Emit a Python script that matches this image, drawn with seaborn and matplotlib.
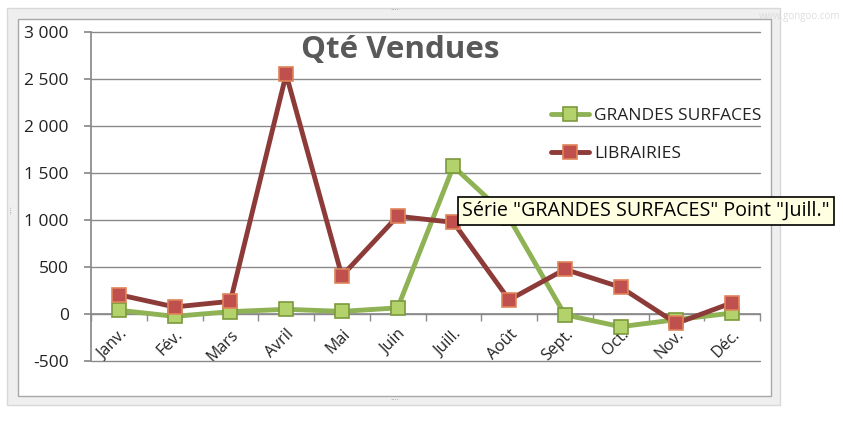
import pandas as pd
import matplotlib.pyplot as plt
import seaborn as sns
from matplotlib.patches import Rectangle
from matplotlib.ticker import FuncFormatter, FixedLocator


# Data
mois = ["Janv.", "Fév.", "Mars", "Avril", "Mai", "Juin",
        "Juill.", "Août", "Sept.", "Oct.", "Nov.", "Déc."]
grandes_surfaces = [40, -25, 25, 50, 28, 65, 1570, 1020, -8, -135, -60, 10]
librairies = [205, 75, 135, 2550, 405, 1040, 975, 150, 475, 285, -100, 120]
y_ticks = [-500, 0, 500, 1000, 1500, 2000, 2500, 3000]

# long format table for seaborn
df = pd.DataFrame({
    "pos": list(range(len(mois))) * 2,
    "valeur": grandes_surfaces + librairies,
    "serie": ["GRANDES SURFACES"] * len(mois) + ["LIBRAIRIES"] * len(mois),
})

sns.set_theme(style="white")
plt.rcParams['font.family'] = ['Open Sans', 'DejaVu Sans']

fig = plt.figure(figsize=(8.43, 4.22), dpi=100)
fig.patch.set_facecolor("white")

# Excel-like chart frame
W, H = 843, 422
fig.add_artist(Rectangle((7 / W, 1 - 405 / H), (780 - 7) / W, (405 - 8) / H,
                         transform=fig.transFigure, facecolor="#efefef",
                         edgecolor="#d8d8d8", lw=1, zorder=0))
fig.add_artist(Rectangle((18 / W, 1 - 396 / H), (771 - 18) / W, (396 - 19) / H,
                         transform=fig.transFigure, facecolor="white",
                         edgecolor="#a8a8a8", lw=1, zorder=0))
for x, y in [(395, 11), (395, 401), (12, 210)]:
    fig.text(x / W, 1 - y / H, "····", fontsize=6, color="#9a9a9a",
             ha="center", va="center", rotation=90 if x < 20 else 0)
fig.text(800 / W, 1 - 16 / H, "www.gongoo.com", fontsize=7, color="#dddddd",
         ha="center", va="center")

ax = fig.add_axes([91 / W, 1 - 361 / H, (760 - 91) / W, (361 - 32) / H])
ax.set_facecolor("none")

green_line, green_face, green_edge = "#8fb254", "#b4d26c", "#7b9a3c"
red_line, red_face, red_edge = "#8c3b38", "#c0504d", "#e0845a"

sns.lineplot(data=df[df.serie == "GRANDES SURFACES"], x="pos", y="valeur",
             ax=ax, color=green_line, lw=3.5, marker="s", markersize=10.5,
             markerfacecolor=green_face, markeredgecolor=green_edge,
             markeredgewidth=1.2, label="GRANDES SURFACES", zorder=3)
sns.lineplot(data=df[df.serie == "LIBRAIRIES"], x="pos", y="valeur",
             ax=ax, color=red_line, lw=3.5, marker="s", markersize=10.5,
             markerfacecolor=red_face, markeredgecolor=red_edge,
             markeredgewidth=1.2, label="LIBRAIRIES", zorder=4)

ax.set_xlim(-0.5, len(mois) - 0.5)
ax.set_ylim(-500, 3000)
ax.set_xlabel("")
ax.set_ylabel("")

# gridlines
ax.set_yticks(y_ticks)
ax.yaxis.grid(True, color="#8a8a8a", lw=1)
for gl in ax.get_ygridlines():
    gl.set_clip_on(False)
ax.set_axisbelow(True)
ax.yaxis.set_major_formatter(FuncFormatter(lambda v, p: f"{int(v):,}".replace(",", " ")))
ax.tick_params(axis="y", length=5, color="#8a8a8a", labelsize=12.5,
               labelcolor="#222222", pad=11, left=True)

# category axis crossing at 0
for s in ["top", "right"]:
    ax.spines[s].set_visible(False)
ax.spines["bottom"].set_position(("data", 0))
ax.spines["bottom"].set_color("#8a8a8a")
ax.spines["left"].set_color("#8a8a8a")
ax.set_xticks(range(len(mois)))
ax.set_xticklabels(mois, rotation=45, ha="right", rotation_mode="anchor")
ax.xaxis.set_minor_locator(FixedLocator([i - 0.5 for i in range(len(mois) + 1)]))
ax.tick_params(axis="x", which="major", length=0, labelsize=11.5,
               labelcolor="#222222", pad=9)
ax.tick_params(axis="x", which="minor", length=5, color="#8a8a8a",
               direction="out", bottom=True)

fig.text(400 / W, 1 - 50 / H, "Qté Vendues", fontsize=22.5,
         fontweight="bold", color="#595959", ha="center", va="center")

ax.legend(loc="upper left", bbox_to_anchor=(535 / W, 1 - 92 / H),
          bbox_transform=fig.transFigure, frameon=False, fontsize=12.5,
          handlelength=2.2, handletextpad=0.3, labelspacing=1.3,
          labelcolor="#222222")

# tooltip
fig.text(462 / W, 1 - 211 / H, 'Série "GRANDES SURFACES" Point "Juill."',
         fontsize=14.2, color="black", ha="left", va="center", zorder=10,
         bbox=dict(boxstyle="square,pad=0.22", facecolor="#ffffe1",
                   edgecolor="black", lw=1.2))

fig.savefig("out.png", dpi=100)
